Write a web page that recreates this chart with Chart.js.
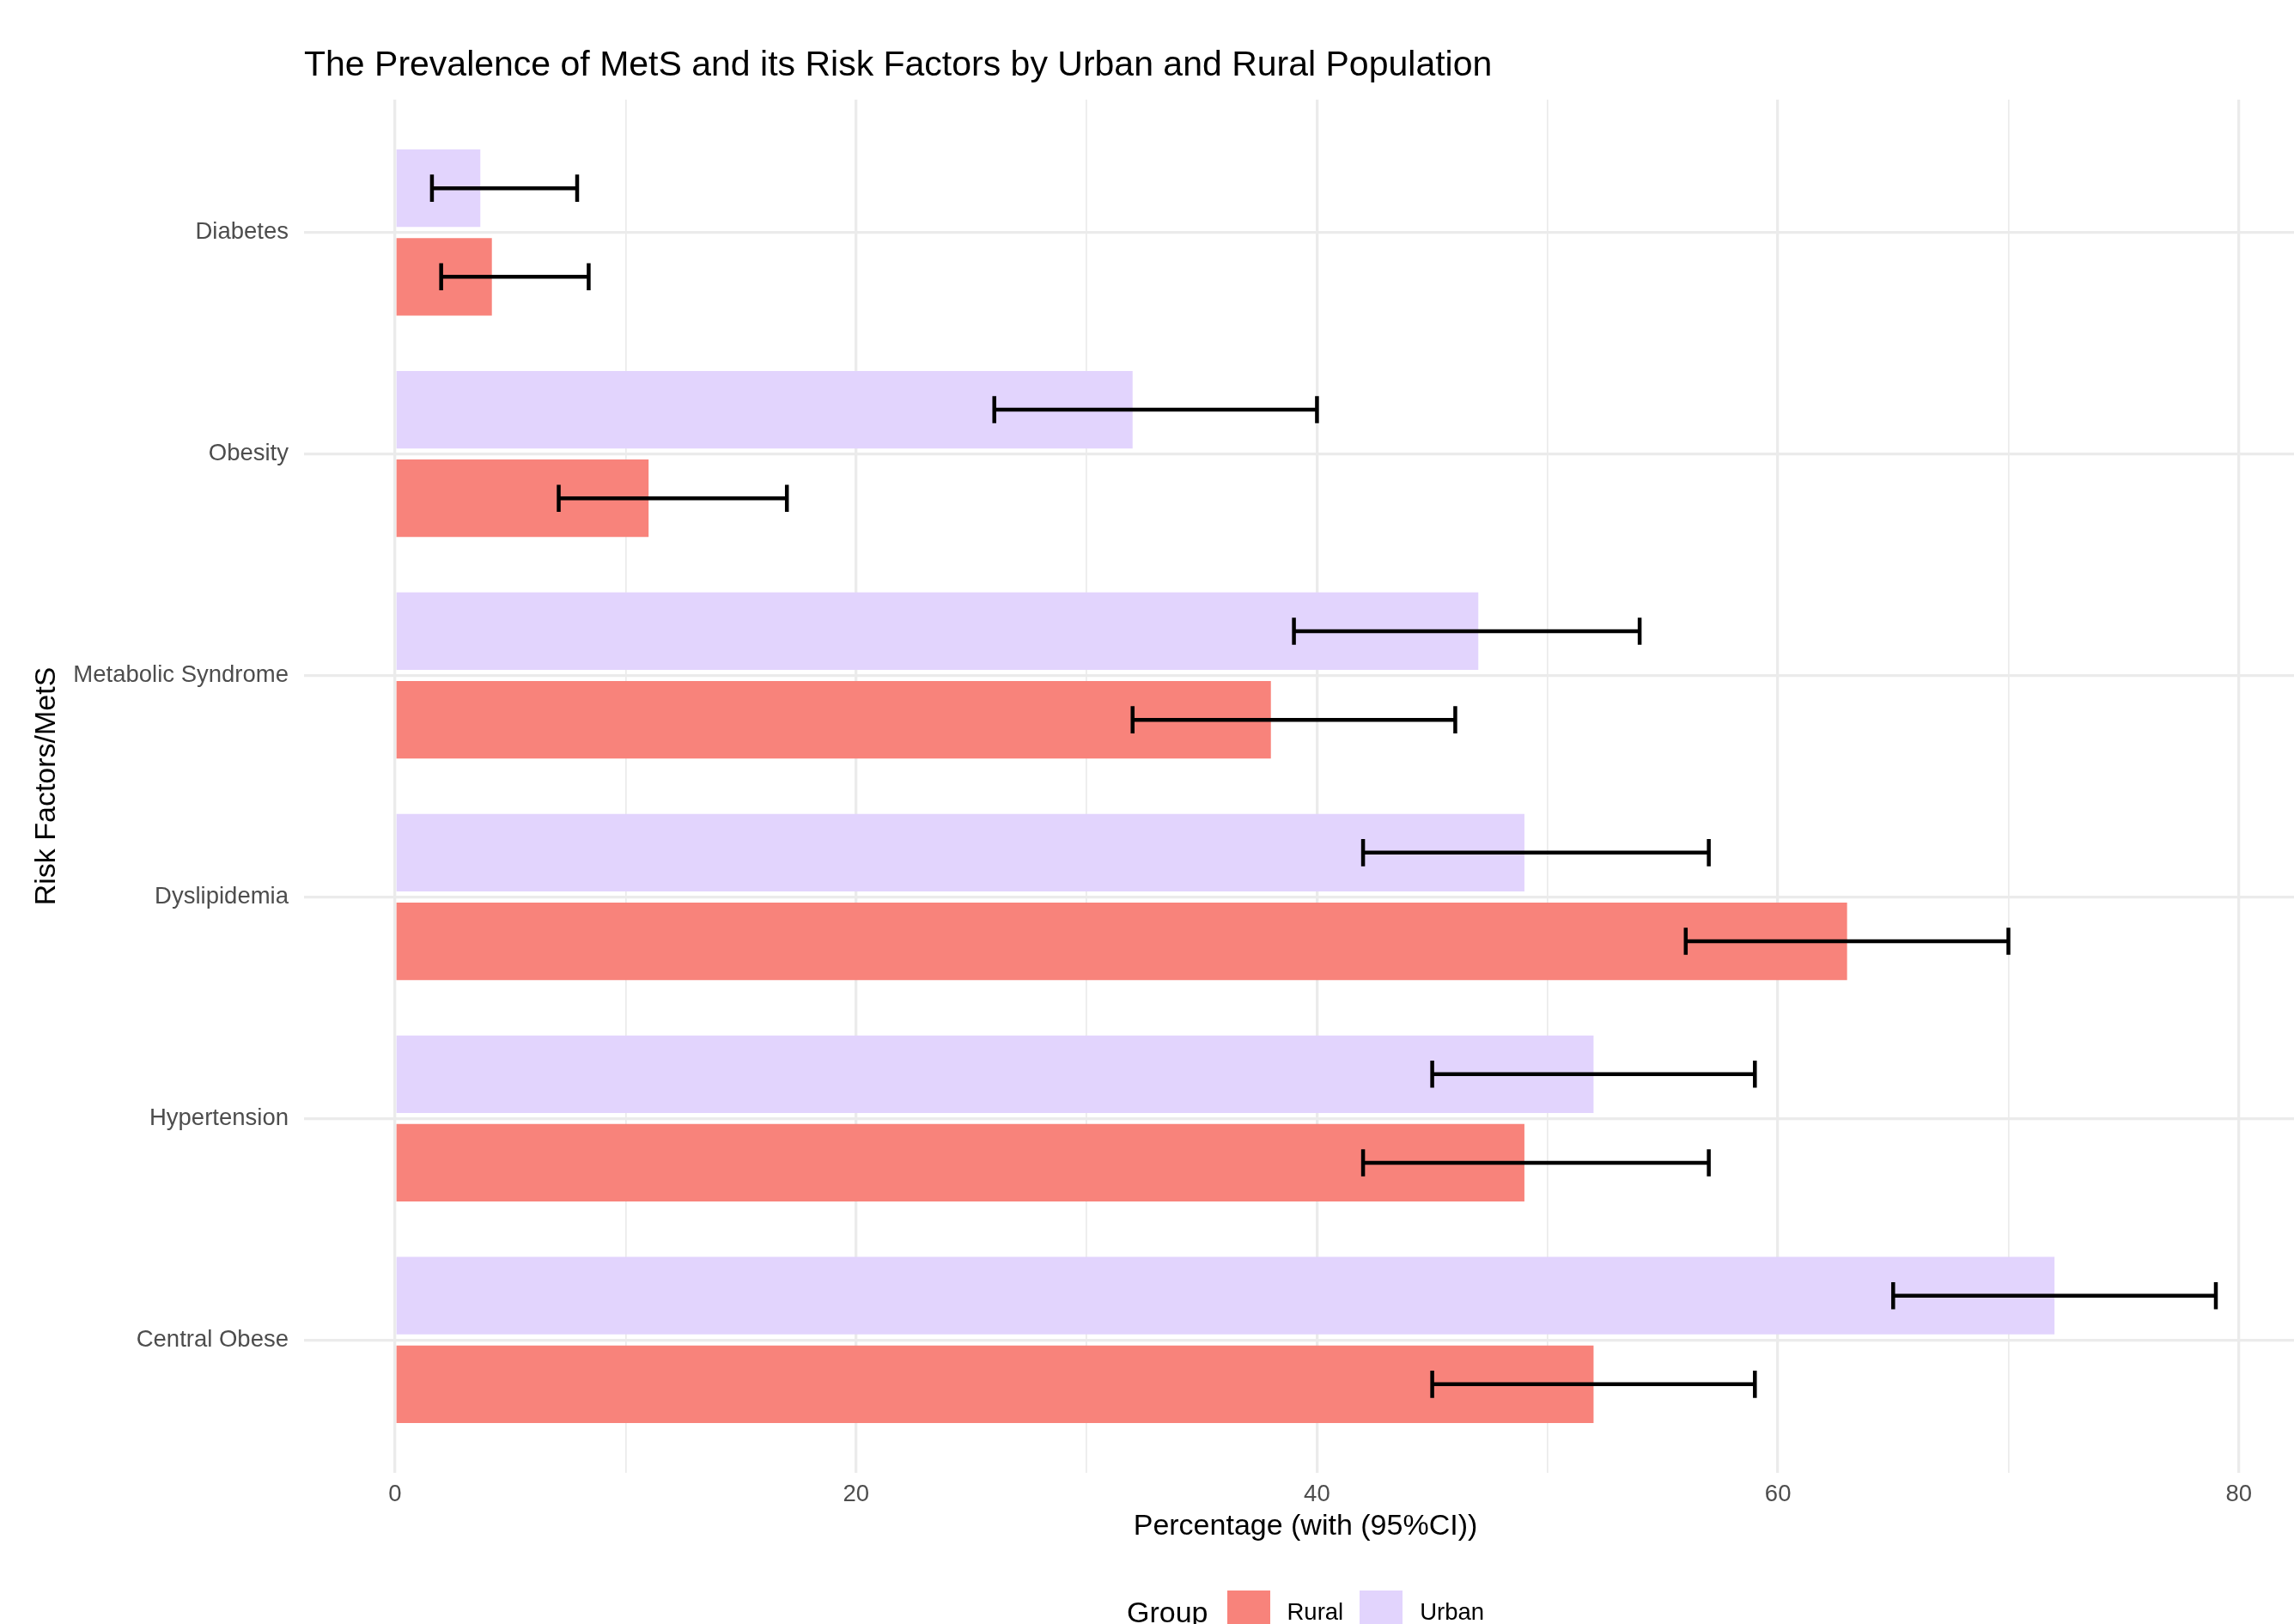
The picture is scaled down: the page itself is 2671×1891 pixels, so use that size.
<!DOCTYPE html>
<html>
<head>
<meta charset="utf-8">
<script src="https://cdn.jsdelivr.net/npm/chart.js@4"></script>
<style>
  html, body { margin: 0; padding: 0; background: #ffffff; overflow: hidden; }
  #wrap { position: absolute; left: 0; top: 0; width: 2703px; height: 1930px; }
  #chart { position: absolute; left: 0; top: 0; }
  #legend {
    position: absolute; left: 1312px; top: 1852px; height: 50px;
    display: flex; align-items: center;
    font-family: "Liberation Sans", Arial, sans-serif; color: #000;
  }
  #legend .ttl { font-size: 34px; margin-right: 22px; }
  #legend .key { width: 50px; height: 50px; }
  #legend .lab { font-size: 27.5px; margin-left: 20px; margin-right: 19px; }
</style>
</head>
<body>
<div id="wrap">
  <canvas id="chart" width="2703" height="1930"></canvas>
  <div id="legend"></div>
</div>
<script>
// Risk factors, top to bottom
const categories = ['Diabetes', 'Obesity', 'Metabolic Syndrome', 'Dyslipidemia', 'Hypertension', 'Central Obese'];

// Prevalence (%) with 95% CI bounds
const urbanValues = [3.7, 32.0, 47.0, 49.0, 52.0, 72.0];
const urbanLower  = [1.6, 26.0, 39.0, 42.0, 45.0, 65.0];
const urbanUpper  = [7.9, 40.0, 54.0, 57.0, 59.0, 79.0];

const ruralValues = [4.2, 11.0, 38.0, 63.0, 49.0, 52.0];
const ruralLower  = [2.0, 7.1, 32.0, 56.0, 42.0, 45.0];
const ruralUpper  = [8.4, 17.0, 46.0, 70.0, 57.0, 59.0];

// Axis ticks
const xTickValues = [0, 10, 20, 30, 40, 50, 60, 70, 80];
const xLabelledTicks = [0, 20, 40, 60, 80];

const FONT = '"Liberation Sans", Arial, sans-serif';
const GRID = '#EBEBEB';

const toPoints = vals => vals.map((v, i) => ({ x: v, y: i }));

const datasets = [
  { label: 'Urban', data: toPoints(urbanValues), backgroundColor: '#E2D4FD',
    ciLow: urbanLower, ciHigh: urbanUpper, legendOrder: 1 },
  { label: 'Rural', data: toPoints(ruralValues), backgroundColor: '#F8837B',
    ciLow: ruralLower, ciHigh: ruralUpper, legendOrder: 0 }
];

// Horizontal error bars with end caps, drawn on top of each bar
const errorBars = {
  id: 'errorBars',
  afterDatasetsDraw(chart) {
    const { ctx } = chart;
    const xs = chart.scales.x;
    ctx.save();
    ctx.strokeStyle = '#000000';
    ctx.lineWidth = 4.5;
    ctx.lineCap = 'butt';
    chart.data.datasets.forEach((ds, di) => {
      const meta = chart.getDatasetMeta(di);
      meta.data.forEach((bar, i) => {
        const y = bar.y;
        const half = bar.height * 0.35 / 2;
        const x1 = xs.getPixelForValue(ds.ciLow[i]);
        const x2 = xs.getPixelForValue(ds.ciHigh[i]);
        ctx.beginPath();
        ctx.moveTo(x1, y); ctx.lineTo(x2, y);
        ctx.moveTo(x1, y - half); ctx.lineTo(x1, y + half);
        ctx.moveTo(x2, y - half); ctx.lineTo(x2, y + half);
        ctx.stroke();
      });
    });
    ctx.restore();
  }
};

const chart = new Chart(document.getElementById('chart'), {
  type: 'bar',
  data: { datasets },
  options: {
    indexAxis: 'y',
    responsive: false,
    animation: false,
    devicePixelRatio: 1,
    categoryPercentage: 0.8,
    barPercentage: 0.875,
    layout: { padding: { left: 0, top: 52, right: 17, bottom: 115 } },
    plugins: {
      legend: { display: false },
      tooltip: { enabled: false },
      title: {
        display: true,
        text: 'The Prevalence of MetS and its Risk Factors by Urban and Rural Population',
        align: 'start',
        fullSize: false,
        color: '#000000',
        font: { family: FONT, size: 41, weight: 'normal', lineHeight: 1.2 },
        padding: { top: 0, bottom: 14.8 }
      }
    },
    scales: {
      x: {
        type: 'linear',
        min: -3.95,
        max: 82.95,
        afterBuildTicks: s => { s.ticks = xTickValues.map(v => ({ value: v })); },
        afterFit: s => { s.height = 100; },
        border: { display: false },
        grid: {
          color: GRID,
          drawTicks: false,
          lineWidth: c => (xLabelledTicks.includes(c.tick && c.tick.value) ? 3.3 : 1.7)
        },
        ticks: {
          color: '#4D4D4D',
          padding: 9,
          maxRotation: 0,
          autoSkip: false,
          font: { family: FONT, size: 27.5, lineHeight: 1.2 },
          callback: v => (xLabelledTicks.includes(v) ? String(v) : '')
        },
        title: {
          display: true,
          text: 'Percentage (with (95%CI))',
          color: '#000000',
          font: { family: FONT, size: 34, lineHeight: 1 },
          padding: { top: 0, bottom: 20 }
        }
      },
      y: {
        type: 'linear',
        reverse: true,
        min: -0.6,
        max: 5.6,
        offset: false,
        afterBuildTicks: s => { s.ticks = categories.map((_, i) => ({ value: i })); },
        afterFit: s => { s.width = 354; },
        border: { display: false },
        grid: { color: GRID, lineWidth: 3.3, drawTicks: false, offset: false },
        ticks: {
          color: '#4D4D4D',
          padding: 18,
          autoSkip: false,
          font: { family: FONT, size: 27.5, lineHeight: 1.2 },
          callback: v => categories[v] ?? ''
        },
        title: {
          display: true,
          text: 'Risk Factors/MetS',
          color: '#000000',
          font: { family: FONT, size: 34, lineHeight: 1 },
          padding: { top: 38, bottom: 0 }
        }
      }
    }
  },
  plugins: [errorBars]
});

// Legend built from the chart's datasets
const legend = document.getElementById('legend');
const ttl = document.createElement('span');
ttl.className = 'ttl';
ttl.textContent = 'Group';
legend.appendChild(ttl);
[...chart.data.datasets].sort((a, b) => a.legendOrder - b.legendOrder).forEach(ds => {
  const key = document.createElement('span');
  key.className = 'key';
  key.style.background = ds.backgroundColor;
  const lab = document.createElement('span');
  lab.className = 'lab';
  lab.textContent = ds.label;
  legend.appendChild(key);
  legend.appendChild(lab);
});
</script>
</body>
</html>
